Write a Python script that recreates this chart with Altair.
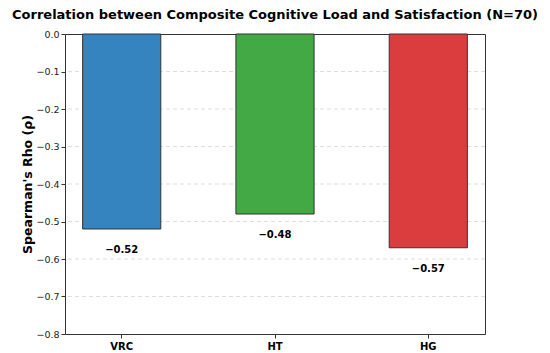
import altair as alt
import pandas as pd

groups = ["VRC", "HT", "HG"]
rho = [-0.52, -0.48, -0.57]
colors = ["#3584c0", "#42a944", "#db3d3f"]
labels = ["−0.52", "−0.48", "−0.57"]
ticks = [0, -0.1, -0.2, -0.3, -0.4, -0.5, -0.6, -0.7, -0.8]
grid_lines = [-0.1, -0.2, -0.3, -0.4, -0.5, -0.6, -0.7]

df = pd.DataFrame({"group": groups, "rho": rho, "label": labels})
gdf = pd.DataFrame({"rho": grid_lines})

yscale = alt.Scale(domain=[-0.8, 0], nice=False)
yaxis = alt.Axis(values=ticks, labelOverlap=False,
                 format=".1f", labelFontSize=9.5, labelColor="#222",
                 titleFontSize=12.5, titleFontWeight="bold", titleColor="#000",
                 grid=False, domain=False, tickColor="#333", tickSize=4,
                 titlePadding=1)
ytitle = "Spearman's Rho (ρ)"

x = alt.X("group:N", sort=groups, title=None,
          scale=alt.Scale(paddingInner=0.49, paddingOuter=0.115),
          axis=alt.Axis(labelAngle=0, labelFontWeight="bold", labelFontSize=10,
                        labelColor="#000", tickColor="#333", domain=False,
                        labelPadding=3, tickSize=4))

grid = alt.Chart(gdf).mark_rule(color="#dddddd", strokeDash=[4, 3], strokeWidth=1).encode(
    y=alt.Y("rho:Q", scale=yscale, axis=yaxis, title=ytitle))

bars = alt.Chart(df).mark_bar(stroke="#333333", strokeWidth=1).encode(
    x=x, y=alt.Y("rho:Q", scale=yscale, axis=yaxis, title=ytitle),
    color=alt.Color("group:N", scale=alt.Scale(domain=groups, range=colors), legend=None),
)
text = alt.Chart(df).mark_text(dy=21, fontWeight="bold", fontSize=10, color="#000",
                               baseline="middle").encode(
    x=alt.X("group:N", sort=groups), y=alt.Y("rho:Q", scale=yscale, axis=yaxis, title=ytitle),
    text="label:N")

chart = alt.layer(grid, bars, text).properties(
    width=420, height=300,
    title=alt.TitleParams("Correlation between Composite Cognitive Load and Satisfaction (N=70)",
                          fontSize=13, fontWeight="bold", color="#000", offset=7, anchor="middle"),
    autosize=alt.AutoSizeParams(type="none"),
    padding={"left": 57, "top": 26, "right": 57, "bottom": 19},
).configure(font="DejaVu Sans").configure_view(stroke="#333333", strokeWidth=1)

chart.save("out.html", embed_options={"renderer": "svg", "actions": False})
